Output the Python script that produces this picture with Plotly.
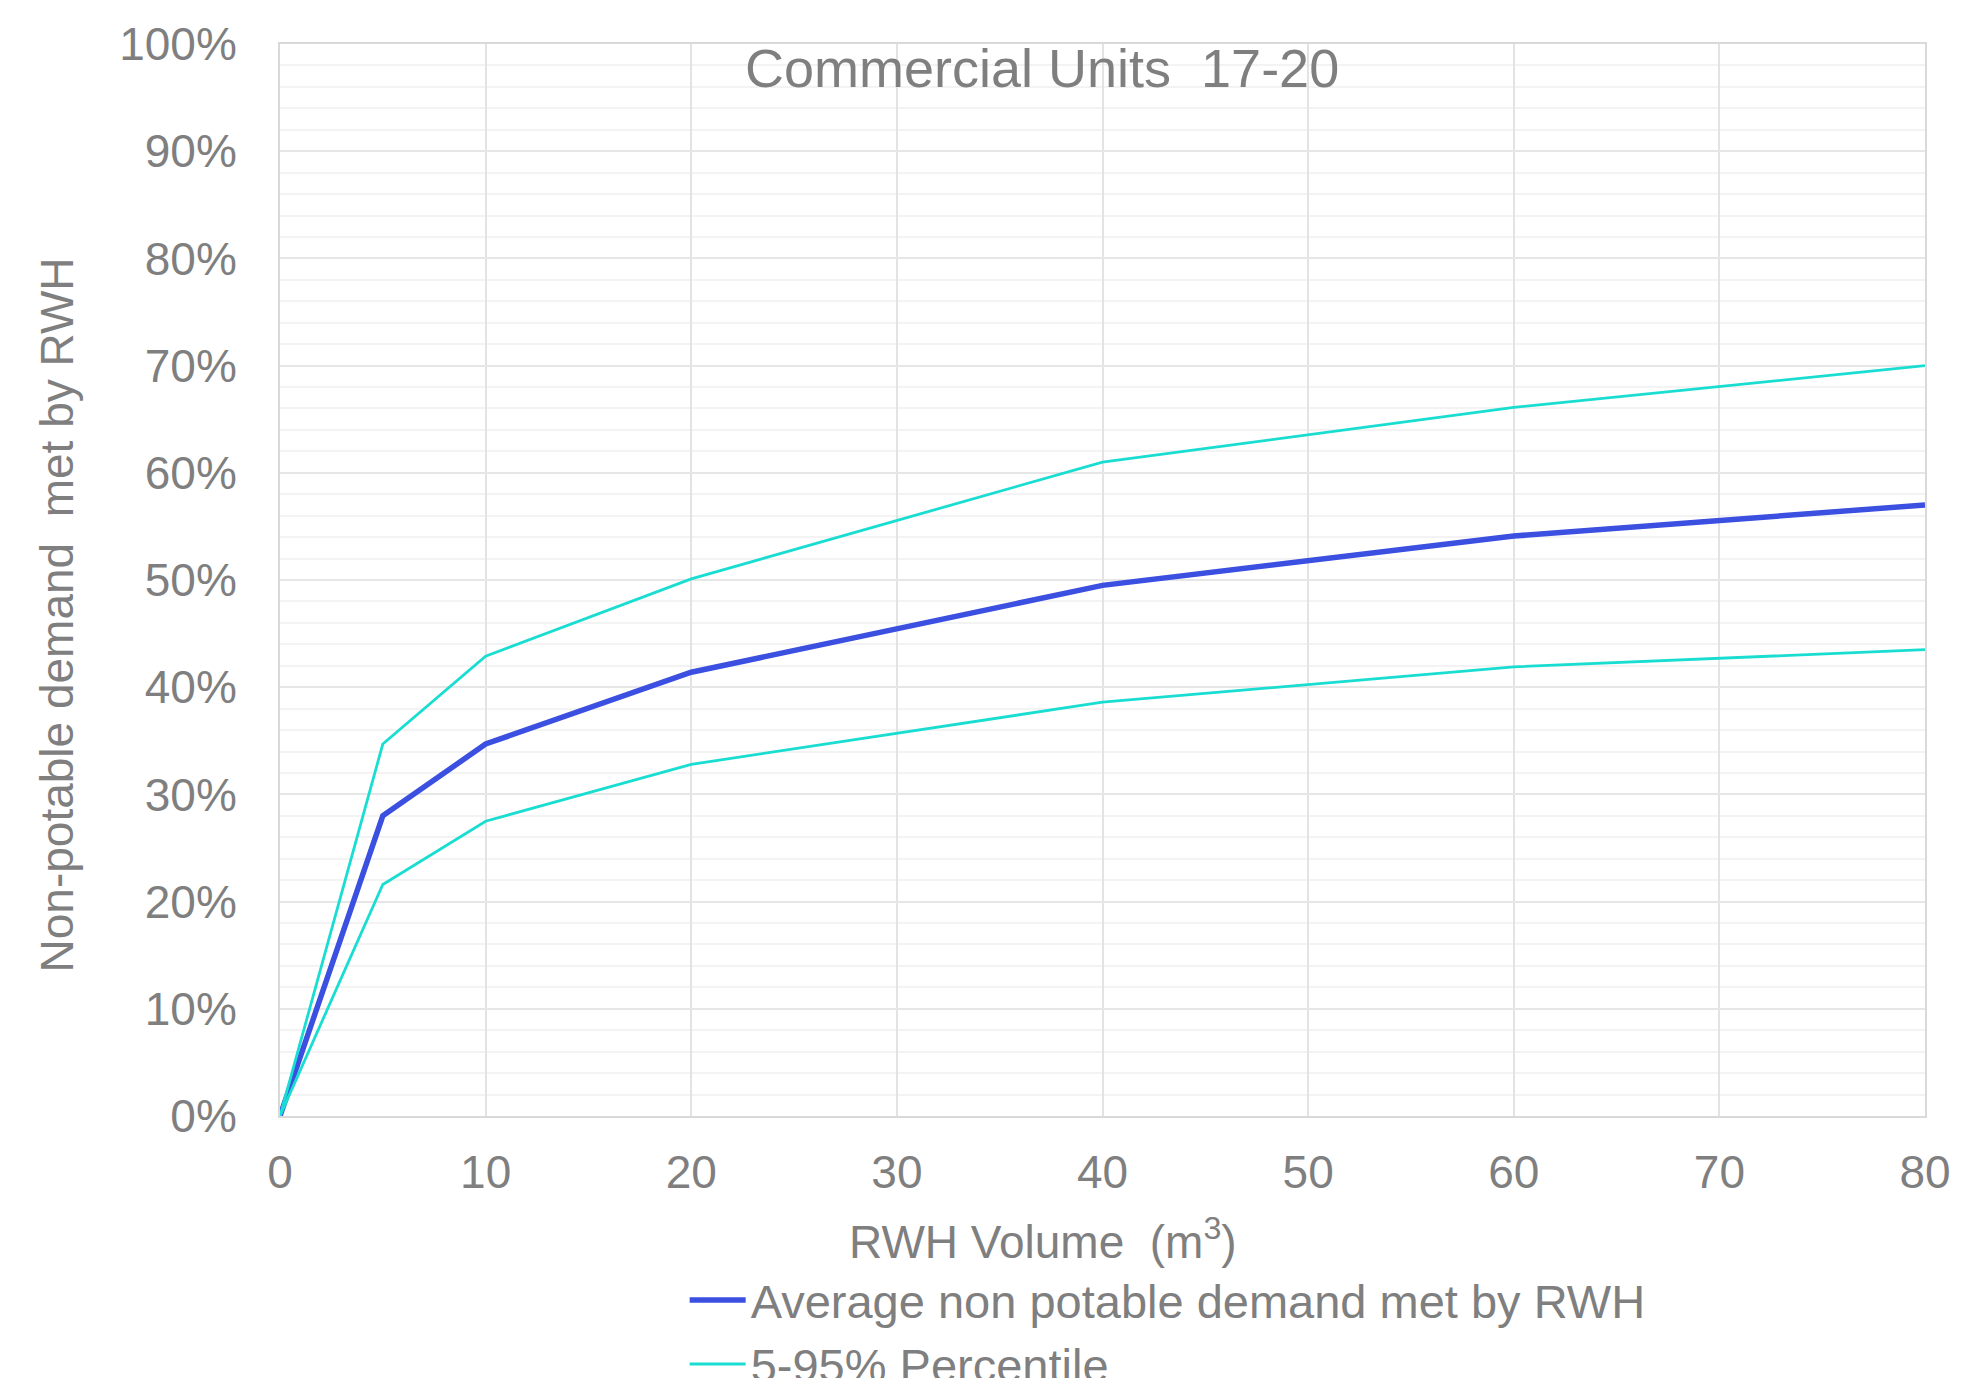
import plotly.graph_objects as go

volume = [0, 5, 10, 20, 40, 60, 80]
average = [0.0, 0.280, 0.347, 0.414, 0.495, 0.541, 0.570]
p95 = [0.0, 0.347, 0.429, 0.501, 0.610, 0.661, 0.700]
p5 = [0.0, 0.216, 0.275, 0.328, 0.386, 0.419, 0.435]

title_text = "Commercial Units  17-20"
x_title = "RWH Volume  (m<sup>3</sup>)"
y_title = "Non-potable demand  met by RWH"
name_avg = "Average non potable demand met by RWH"
name_pct = "5-95% Percentile"

BLUE = "#3B4FE0"
CYAN = "#1ADDD2"
GREY = "#7F7F7F"
FONT = "Liberation Sans, Arial, sans-serif"

fig = go.Figure()
fig.add_trace(go.Scatter(x=volume, y=average, mode="lines", name=name_avg,
                         line=dict(color=BLUE, width=5.5)))
fig.add_trace(go.Scatter(x=volume, y=p95, mode="lines", name=name_pct,
                         legendgroup="pct", line=dict(color=CYAN, width=2.8)))
fig.add_trace(go.Scatter(x=volume, y=p5, mode="lines", name=name_pct,
                         legendgroup="pct", showlegend=False,
                         line=dict(color=CYAN, width=2.8)))

fig.update_layout(
    width=1986, height=1378,
    margin=dict(l=272, r=69, t=36, b=270, autoexpand=False),
    paper_bgcolor="white", plot_bgcolor="white",
    font=dict(family=FONT, color=GREY, size=46),
    showlegend=True,
    legend=dict(x=0.246, y=-0.137, xanchor="left", yanchor="top",
                font=dict(size=47, color=GREY), bgcolor="rgba(0,0,0,0)",
                tracegroupgap=0, itemwidth=56),
    annotations=[
        dict(text=title_text, x=0.463, y=0.978, xref="paper", yref="paper",
             xanchor="center", yanchor="middle", showarrow=False,
             font=dict(size=54, color=GREY, family=FONT)),
        dict(text=x_title, x=0.464, y=-0.115, xref="paper", yref="paper",
             xanchor="center", yanchor="middle", showarrow=False,
             font=dict(size=46, color=GREY, family=FONT)),
        dict(text=y_title, x=-0.1355, y=0.467, xref="paper", yref="paper",
             xanchor="center", yanchor="middle", showarrow=False, textangle=-90,
             font=dict(size=46, color=GREY, family=FONT)),
    ],
)

fig.update_xaxes(range=[0, 80], dtick=10, tick0=0, showgrid=True,
                 gridcolor="#E3E3E3", gridwidth=2, zeroline=False,
                 showline=True, linecolor="#D9D9D9", linewidth=2, mirror=True,
                 ticks="", ticklabelstandoff=15,
                 tickfont=dict(size=46, color=GREY))
fig.update_yaxes(range=[0, 1], dtick=0.1, tick0=0, tickformat=".0%",
                 showgrid=True, gridcolor="#E6E6E6", gridwidth=2,
                 zeroline=False, showline=True, linecolor="#D9D9D9",
                 linewidth=2, mirror=True, ticks="", ticklabelstandoff=32,
                 minor=dict(dtick=0.02, showgrid=True, gridcolor="#F3F3F3",
                            gridwidth=2),
                 tickfont=dict(size=46, color=GREY))

fig.write_html("out.html")
